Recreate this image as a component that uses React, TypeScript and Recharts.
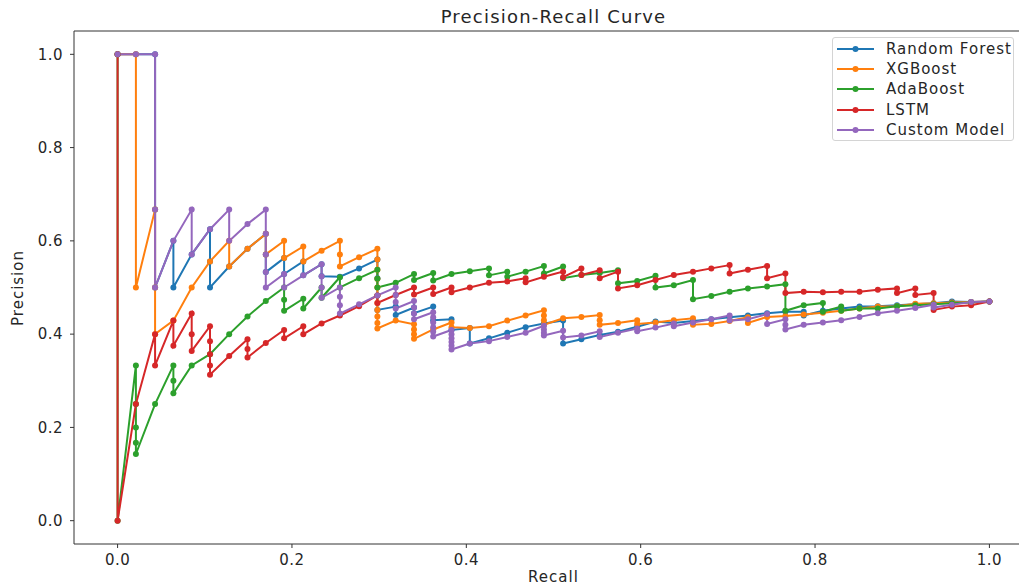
import { LineChart, Line, XAxis, YAxis, ReferenceLine } from "recharts";

type Pt = [number, number]; // [recall, precision]

// in order of increasing recall
const randomForest: Pt[] = [
  [0, 1], [0.021, 1], [0.043, 1], [0.043, 0.667], [0.043, 0.5],
  [0.064, 0.6], [0.064, 0.5], [0.085, 0.571],
  [0.106, 0.625], [0.106, 0.556], [0.106, 0.5], [0.128, 0.545], [0.149, 0.583],
  [0.17, 0.615], [0.17, 0.571], [0.17, 0.533], [0.191, 0.563], [0.191, 0.529],
  [0.213, 0.556], [0.213, 0.526], [0.234, 0.55], [0.234, 0.524], [0.255, 0.523], [0.277, 0.541],
  [0.298, 0.56], [0.298, 0.52], [0.298, 0.483], [0.298, 0.452],
  [0.319, 0.459], [0.319, 0.441], [0.34, 0.457], [0.34, 0.445], [0.362, 0.459], [0.362, 0.43],
  [0.383, 0.432], [0.383, 0.409], [0.404, 0.413], [0.404, 0.38],
  [0.426, 0.391], [0.447, 0.403], [0.468, 0.415], [0.489, 0.423], [0.511, 0.429], [0.511, 0.38],
  [0.532, 0.389], [0.553, 0.398], [0.574, 0.405], [0.596, 0.416], [0.617, 0.427],
  [0.638, 0.424], [0.66, 0.428], [0.681, 0.432], [0.702, 0.436], [0.723, 0.44], [0.745, 0.445],
  [0.766, 0.448], [0.787, 0.448], [0.787, 0.44], [0.809, 0.45], [0.83, 0.455], [0.851, 0.459],
  [0.872, 0.46], [0.894, 0.462], [0.915, 0.464], [0.936, 0.466], [0.957, 0.47], [0.979, 0.469], [1, 0.47],
];

const xgboost: Pt[] = [
  [0, 1], [0.021, 1], [0.021, 0.5], [0.043, 0.667], [0.043, 0.5], [0.043, 0.4],
  [0.064, 0.429], [0.085, 0.5], [0.106, 0.556], [0.128, 0.6], [0.128, 0.545], [0.149, 0.583],
  [0.17, 0.615], [0.17, 0.571], [0.191, 0.6], [0.191, 0.563], [0.213, 0.588], [0.213, 0.556],
  [0.234, 0.579], [0.255, 0.6], [0.255, 0.571], [0.255, 0.545], [0.277, 0.565],
  [0.298, 0.583], [0.298, 0.56], [0.298, 0.538], [0.298, 0.519], [0.298, 0.5], [0.298, 0.483],
  [0.298, 0.467], [0.298, 0.452], [0.298, 0.438], [0.298, 0.424], [0.298, 0.412],
  [0.319, 0.429], [0.34, 0.421], [0.34, 0.41], [0.34, 0.4], [0.34, 0.39], [0.362, 0.41],
  [0.383, 0.425], [0.383, 0.415], [0.404, 0.413], [0.426, 0.417], [0.447, 0.429], [0.468, 0.44],
  [0.489, 0.451], [0.489, 0.44], [0.489, 0.43], [0.489, 0.42], [0.511, 0.434], [0.532, 0.437],
  [0.553, 0.441], [0.553, 0.43], [0.553, 0.42], [0.574, 0.424], [0.596, 0.43], [0.596, 0.422],
  [0.617, 0.425], [0.638, 0.43], [0.66, 0.434], [0.66, 0.42], [0.681, 0.422], [0.702, 0.428],
  [0.723, 0.436], [0.723, 0.424], [0.745, 0.437], [0.766, 0.439], [0.787, 0.442], [0.809, 0.446],
  [0.83, 0.45], [0.851, 0.455], [0.872, 0.459], [0.894, 0.46], [0.915, 0.465], [0.936, 0.466],
  [0.957, 0.468], [0.979, 0.469], [1, 0.47],
];

const adaBoost: Pt[] = [
  [0, 1], [0, 0], [0.021, 0.333], [0.021, 0.25], [0.021, 0.2], [0.021, 0.167], [0.021, 0.143],
  [0.043, 0.25], [0.064, 0.333], [0.064, 0.3], [0.064, 0.273], [0.085, 0.333], [0.106, 0.357],
  [0.128, 0.4], [0.149, 0.438], [0.17, 0.471], [0.191, 0.5], [0.191, 0.474], [0.191, 0.45],
  [0.213, 0.476], [0.213, 0.455], [0.234, 0.5], [0.234, 0.478], [0.255, 0.522], [0.255, 0.5],
  [0.277, 0.52], [0.298, 0.538], [0.298, 0.519], [0.298, 0.5], [0.319, 0.51],
  [0.34, 0.529], [0.34, 0.516], [0.362, 0.531], [0.362, 0.515], [0.383, 0.529], [0.404, 0.535],
  [0.426, 0.541], [0.426, 0.526], [0.447, 0.534], [0.447, 0.523], [0.468, 0.534],
  [0.489, 0.546], [0.489, 0.53], [0.511, 0.545], [0.511, 0.52], [0.532, 0.527], [0.553, 0.531],
  [0.574, 0.537], [0.574, 0.509], [0.596, 0.514], [0.617, 0.525], [0.617, 0.5], [0.638, 0.505],
  [0.66, 0.516], [0.66, 0.475], [0.681, 0.482], [0.702, 0.491], [0.723, 0.498], [0.745, 0.502],
  [0.766, 0.507], [0.766, 0.45], [0.787, 0.462], [0.809, 0.467], [0.809, 0.448],
  [0.83, 0.459], [0.83, 0.45], [0.851, 0.455], [0.872, 0.455], [0.894, 0.46], [0.915, 0.462],
  [0.936, 0.464], [0.957, 0.466], [0.979, 0.468], [1, 0.47],
];

const lstm: Pt[] = [
  [0, 1], [0, 0], [0.021, 0.25], [0.043, 0.4], [0.043, 0.333], [0.064, 0.429], [0.064, 0.375],
  [0.085, 0.444], [0.085, 0.4], [0.085, 0.364],
  [0.106, 0.417], [0.106, 0.385], [0.106, 0.357], [0.106, 0.333], [0.106, 0.313],
  [0.128, 0.353], [0.149, 0.389], [0.149, 0.368], [0.149, 0.35], [0.17, 0.381],
  [0.191, 0.409], [0.191, 0.391], [0.213, 0.417], [0.213, 0.4], [0.234, 0.423], [0.255, 0.44],
  [0.277, 0.46], [0.298, 0.483], [0.298, 0.467], [0.319, 0.484], [0.34, 0.5], [0.34, 0.485],
  [0.362, 0.5], [0.362, 0.486], [0.383, 0.5], [0.383, 0.49], [0.404, 0.5], [0.426, 0.51],
  [0.447, 0.513], [0.468, 0.52], [0.468, 0.511], [0.489, 0.523], [0.511, 0.534], [0.511, 0.522],
  [0.532, 0.541], [0.532, 0.527], [0.553, 0.537], [0.553, 0.52], [0.574, 0.534], [0.574, 0.498],
  [0.596, 0.505], [0.617, 0.516], [0.638, 0.527], [0.66, 0.534], [0.681, 0.541],
  [0.702, 0.548], [0.702, 0.53], [0.723, 0.538], [0.745, 0.546], [0.745, 0.52],
  [0.766, 0.53], [0.766, 0.488], [0.787, 0.491], [0.809, 0.49], [0.83, 0.491], [0.851, 0.491],
  [0.872, 0.495], [0.894, 0.498], [0.894, 0.488], [0.915, 0.498], [0.915, 0.484],
  [0.936, 0.488], [0.936, 0.452], [0.957, 0.459], [0.979, 0.462], [1, 0.47],
];

const customModel: Pt[] = [
  [0, 1], [0.021, 1], [0.043, 1], [0.043, 0.667], [0.043, 0.5], [0.064, 0.6],
  [0.085, 0.667], [0.085, 0.571], [0.106, 0.625], [0.128, 0.667], [0.128, 0.6], [0.149, 0.636],
  [0.17, 0.667], [0.17, 0.615], [0.17, 0.571], [0.17, 0.533], [0.17, 0.5],
  [0.191, 0.529], [0.191, 0.5], [0.213, 0.526],
  [0.234, 0.55], [0.234, 0.524], [0.234, 0.5], [0.234, 0.478],
  [0.255, 0.5], [0.255, 0.48], [0.255, 0.462], [0.255, 0.444], [0.277, 0.464], [0.298, 0.483],
  [0.319, 0.5], [0.319, 0.484], [0.319, 0.469], [0.319, 0.455],
  [0.34, 0.471], [0.34, 0.457], [0.34, 0.444], [0.34, 0.432],
  [0.362, 0.447], [0.362, 0.436], [0.362, 0.425], [0.362, 0.415], [0.362, 0.405], [0.362, 0.395],
  [0.383, 0.409], [0.383, 0.4], [0.383, 0.391], [0.383, 0.383], [0.383, 0.375], [0.383, 0.367],
  [0.404, 0.38], [0.426, 0.385], [0.447, 0.394], [0.468, 0.403],
  [0.489, 0.418], [0.489, 0.41], [0.489, 0.403], [0.489, 0.397], [0.511, 0.407], [0.511, 0.393],
  [0.532, 0.397], [0.553, 0.406], [0.553, 0.394], [0.574, 0.403], [0.596, 0.412], [0.596, 0.406],
  [0.617, 0.414], [0.638, 0.423], [0.638, 0.417], [0.66, 0.425], [0.681, 0.432],
  [0.702, 0.44], [0.702, 0.429], [0.723, 0.432], [0.745, 0.443], [0.745, 0.422],
  [0.766, 0.432], [0.766, 0.42], [0.766, 0.41], [0.787, 0.42], [0.809, 0.425], [0.83, 0.43],
  [0.851, 0.437], [0.872, 0.445], [0.894, 0.45], [0.915, 0.456], [0.936, 0.463], [0.936, 0.457],
  [0.957, 0.463], [0.979, 0.469], [1, 0.47],
];

const SERIES = [
  { name: "Random Forest", color: "#1f77b4", points: randomForest },
  { name: "XGBoost", color: "#ff7f0e", points: xgboost },
  { name: "AdaBoost", color: "#2ca02c", points: adaBoost },
  { name: "LSTM", color: "#d62728", points: lstm },
  { name: "Custom Model", color: "#9467bd", points: customModel },
];

const X_TICKS = [0, 0.2, 0.4, 0.6, 0.8, 1.0];
const Y_TICKS = [0, 0.2, 0.4, 0.6, 0.8, 1.0];

const FONT = "'DejaVu Sans', sans-serif";
const INK = "#262626";
const tickStyle = { fontSize: 15, fill: INK, fontFamily: FONT, letterSpacing: 0.5 };

const toRows = (pts: Pt[]) => pts.map(([recall, precision]) => ({ recall, precision }));

function LegendBox() {
  return (
    <div
      style={{
        position: "absolute", left: 832, top: 37, width: 182, height: 104,
        border: "1px solid #d4d4d4", borderRadius: 3, background: "rgba(255,255,255,0.85)",
        boxSizing: "border-box", fontFamily: FONT, fontSize: 15, letterSpacing: 1, color: INK,
      }}
    >
      {SERIES.map((s, i) => (
        <div key={s.name} style={{ position: "absolute", left: 0, top: 1 + i * 20.2, height: 20, display: "flex", alignItems: "center" }}>
          <svg width={50} height={20}>
            <line x1={4} x2={41} y1={10} y2={10} stroke={s.color} strokeWidth={2} />
            <circle cx={22.5} cy={10} r={3} fill={s.color} />
          </svg>
          <span style={{ marginLeft: 3, whiteSpace: "nowrap" }}>{s.name}</span>
        </div>
      ))}
    </div>
  );
}

export default function App() {
  return (
    <div style={{ position: "fixed", left: 0, top: 0, width: 1019, height: 587, overflow: "hidden", background: "#fff" }}>
      <LineChart width={1033} height={587} margin={{ top: 31, right: 0, bottom: 0, left: 0 }}>
        <XAxis
          type="number"
          dataKey="recall"
          domain={[-0.05, 1.05]}
          allowDataOverflow
          ticks={X_TICKS}
          tickFormatter={(v: number) => v.toFixed(1)}
          height={43}
          tickSize={4}
          tickMargin={6}
          stroke="#333"
          tick={tickStyle}
        />
        <YAxis
          type="number"
          dataKey="precision"
          domain={[-0.05, 1.05]}
          allowDataOverflow
          ticks={Y_TICKS}
          tickFormatter={(v: number) => v.toFixed(1)}
          width={74}
          tickSize={4}
          tickMargin={7}
          stroke="#333"
          tick={tickStyle}
        />
        <ReferenceLine y={1.05} stroke="#333" strokeWidth={1} />
        {SERIES.map(s => (
          <Line
            key={s.name}
            data={toRows(s.points)}
            dataKey="precision"
            name={s.name}
            type="linear"
            stroke={s.color}
            strokeWidth={2}
            dot={{ r: 3, fill: s.color, stroke: s.color, strokeWidth: 0 }}
            activeDot={false}
            isAnimationActive={false}
          />
        ))}
      </LineChart>

      <div style={{ position: "absolute", left: 74, top: 6, width: 959, textAlign: "center", fontFamily: FONT, fontSize: 18, letterSpacing: 1.2, color: INK, lineHeight: "22px" }}>
        Precision-Recall Curve
      </div>
      <div style={{ position: "absolute", left: 74, top: 568, width: 959, textAlign: "center", fontFamily: FONT, fontSize: 15, letterSpacing: 1, color: INK, lineHeight: "18px" }}>
        Recall
      </div>
      <div style={{ position: "absolute", left: 18, top: 288, transform: "translate(-50%, -50%) rotate(-90deg)", fontFamily: FONT, fontSize: 15, letterSpacing: 1, color: INK, whiteSpace: "nowrap", lineHeight: "18px" }}>
        Precision
      </div>
      <LegendBox />
    </div>
  );
}
